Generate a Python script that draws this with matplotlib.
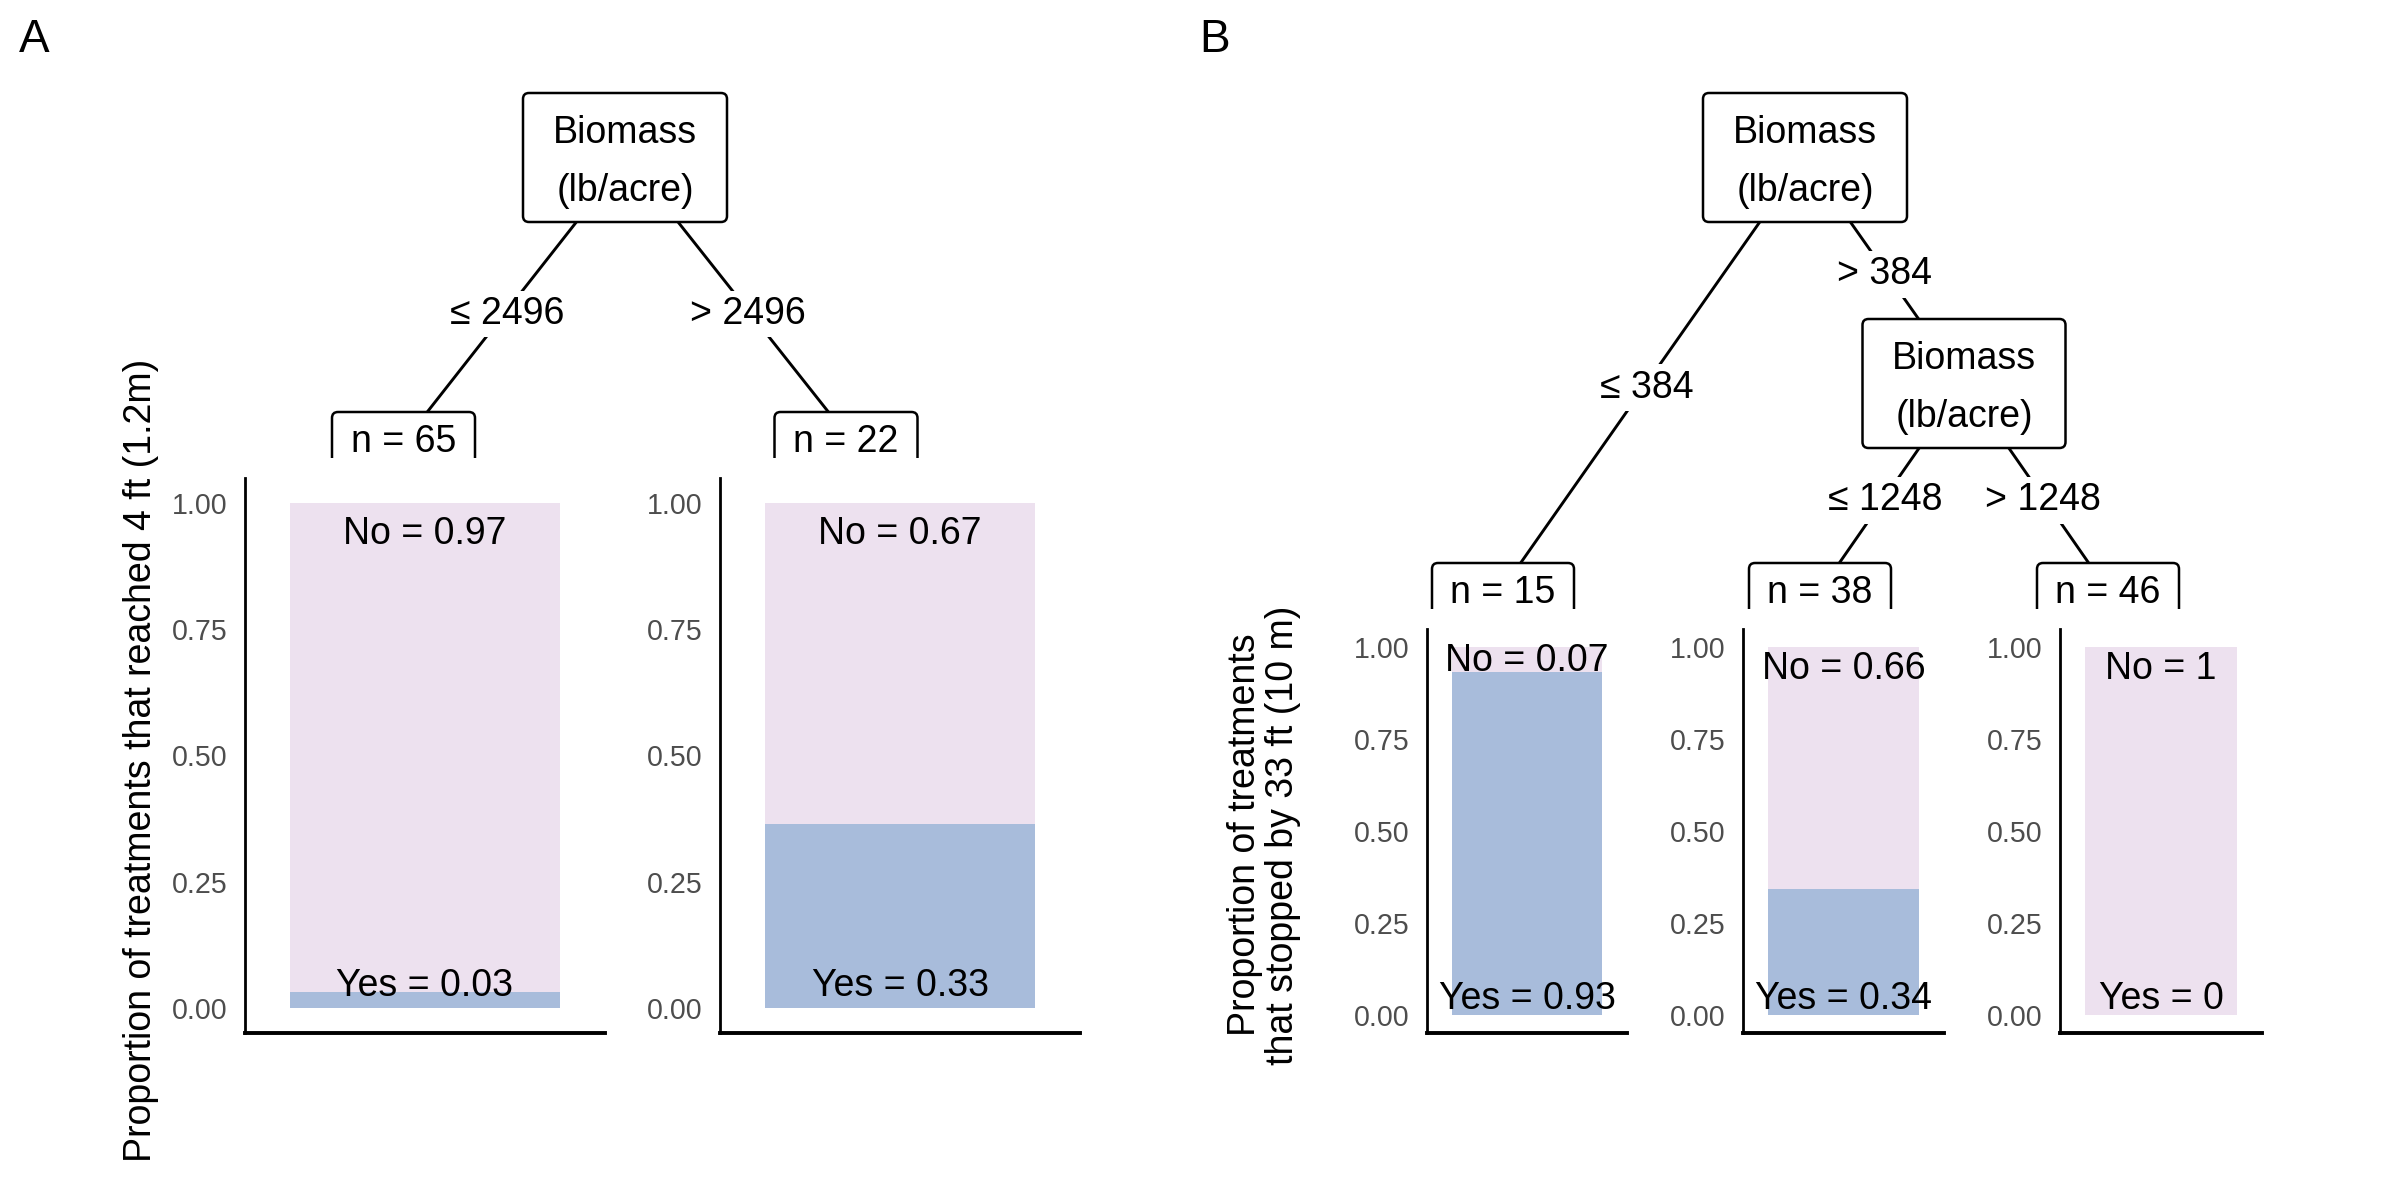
import matplotlib
matplotlib.use("Agg")
import matplotlib.pyplot as plt
from matplotlib.patches import FancyBboxPatch, Rectangle

plt.rcParams['font.family'] = ['Liberation Sans', 'DejaVu Sans']

# ---------------- data ----------------
split_var = ["Biomass", "(lb/acre)"]

# Panel A: one split on biomass
a_split = 2496
a_n = [65, 22]
a_yes = [0.031, 0.364]            # bar heights (proportion "Yes")
a_yes_labels = ["0.03", "0.33"]
a_no_labels = ["0.97", "0.67"]
a_ylabel = "Proportion of treatments that reached 4 ft (1.2m)"

# Panel B: two splits on biomass
b_splits = [384, 1248]
b_n = [15, 38, 46]
b_yes = [0.934, 0.343, 0.0]
b_yes_labels = ["0.93", "0.34", "0"]
b_no_labels = ["0.07", "0.66", "1"]
b_ylabel = "Proportion of treatments\nthat stopped by 33 ft (10 m)"

yticks = [0.0, 0.25, 0.5, 0.75, 1.0]

# ---------------- style ----------------
PINK = "#EDE1EF"
BLUE = "#A8BCDB"
FS = 13.5
TICK_FS = 10.3
W, H = 2400, 1200

fig = plt.figure(figsize=(12, 6), dpi=200)
ov = fig.add_axes([0, 0, 1, 1])
ov.set_xlim(0, W)
ov.set_ylim(H, 0)
ov.axis("off")


def add_px_axes(x0, x1, y0, y1):
    return fig.add_axes([x0 / W, 1 - y1 / H, (x1 - x0) / W, (y1 - y0) / H])


def inner_box(cx, top, bottom, width, lines, baselines):
    p = FancyBboxPatch((cx - width / 2, top), width, bottom - top,
                       boxstyle="round,pad=0,rounding_size=6",
                       fc="white", ec="black", lw=0.9, zorder=2)
    ov.add_patch(p)
    for t, b in zip(lines, baselines):
        ov.text(cx, b, t, ha="center", va="baseline", fontsize=FS, zorder=3)


def term_box(cx, top, width, cut, text):
    p = FancyBboxPatch((cx - width / 2, top), width, 60,
                       boxstyle="round,pad=0,rounding_size=6",
                       fc="white", ec="black", lw=0.9, zorder=2)
    ov.add_patch(p)
    clip = Rectangle((0, 0), W, cut, transform=ov.transData)
    p.set_clip_path(clip)
    ov.text(cx, top + 40, text, ha="center", va="baseline", fontsize=FS, zorder=3)


def edge(p0, p1, label, cut=None):
    ln, = ov.plot([p0[0], p1[0]], [p0[1], p1[1]], color="black", lw=1.05, zorder=1,
                  solid_capstyle="butt")
    if cut is not None:
        ln.set_clip_path(Rectangle((0, 0), W, cut - 2, transform=ov.transData))
    mx, my = (p0[0] + p1[0]) / 2, (p0[1] + p1[1]) / 2
    ov.text(mx, my + 4, label, ha="center", va="center", fontsize=FS, zorder=3,
            bbox=dict(boxstyle="square,pad=0.14", fc="white", ec="none"))


def bar_panel(x0, x1, y0, y1, yes, yes_lab, no_lab):
    ax = add_px_axes(x0, x1, y0, y1)
    ax.bar([1], [yes], width=0.9, color=BLUE, linewidth=0)
    ax.bar([1], [1 - yes], bottom=[yes], width=0.9, color=PINK, linewidth=0)
    ax.set_xlim(0.4, 1.6)
    ax.set_ylim(-0.05, 1.05)
    ax.set_yticks(yticks)
    ax.set_yticklabels([f"{v:.2f}" for v in yticks])
    ax.set_xticks([])
    ax.tick_params(axis="y", length=0, pad=6.3, labelsize=TICK_FS, labelcolor="#4D4D4D")
    for s in ["top", "right"]:
        ax.spines[s].set_visible(False)
    ax.spines["left"].set_linewidth(1.0)
    ax.spines["bottom"].set_linewidth(1.4)
    ax.patch.set_alpha(0)
    ax.text(1, max(0.94, yes + 0.03), f"No = {no_lab}", ha="center", va="center",
            fontsize=FS)
    ax.text(1, 0.043, f"Yes = {yes_lab}", ha="center", va="center", fontsize=FS)
    return ax


# ---------------- panel labels ----------------
ov.text(34, 40, "A", ha="center", va="center", fontsize=16.5)
ov.text(1215, 40, "B", ha="center", va="center", fontsize=16.5)

# ---------------- Panel A tree ----------------
a_root = (627, 157.5)
a_terms = [(388, 462), (868, 462)]
edge(a_root, a_terms[0], f"≤ {a_split}", cut=458)
edge(a_root, a_terms[1], f"> {a_split}", cut=458)
inner_box(625, 93, 222, 204, split_var, [143, 201])
a_nbox_cx = [403.5, 846]
for cx, n in zip(a_nbox_cx, a_n):
    term_box(cx, 412, 143, 458, f"n = {n}")

a_bar_x = [(245, 605), (720, 1080)]
for (x0, x1), yes, yl, nl in zip(a_bar_x, a_yes, a_yes_labels, a_no_labels):
    bar_panel(x0, x1, 478, 1033, yes, yl, nl)

fig.text(141 / W, 1 - 760 / H, a_ylabel, rotation=90, ha="center", va="center",
         fontsize=FS)

# ---------------- Panel B tree ----------------
b_root = (1805, 157.5)
b_inner = (1964, 383.5)
b_terms = [(1488, 609.5), (1807, 609.5), (2121, 609.5)]
edge(b_root, b_terms[0], f"≤ {b_splits[0]}", cut=609)
edge(b_root, b_inner, f"> {b_splits[0]}")
edge(b_inner, b_terms[1], f"≤ {b_splits[1]}", cut=609)
edge(b_inner, b_terms[2], f"> {b_splits[1]}", cut=609)
inner_box(1805, 93, 222, 204, split_var, [143, 201])
inner_box(1964, 319, 448, 203, split_var, [369, 427])
b_nbox_cx = [1503, 1820, 2108]
for cx, n in zip(b_nbox_cx, b_n):
    term_box(cx, 563, 142, 609, f"n = {n}")

b_bar_x = [(1427, 1627), (1743, 1944), (2060, 2262)]
for (x0, x1), yes, yl, nl in zip(b_bar_x, b_yes, b_yes_labels, b_no_labels):
    bar_panel(x0, x1, 629, 1033, yes, yl, nl)

fig.text(1264 / W, 1 - 835 / H, b_ylabel, rotation=90, ha="center", va="center",
         fontsize=FS, multialignment="center", linespacing=1.05)

fig.savefig("out.png", dpi=200, facecolor="white")
